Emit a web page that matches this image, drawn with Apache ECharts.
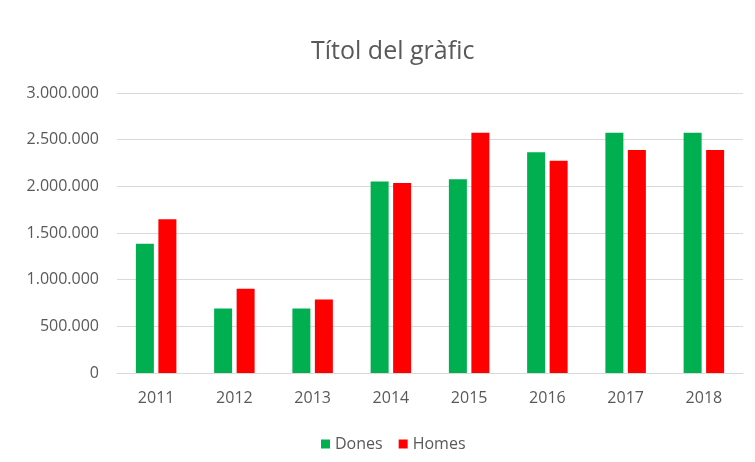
<!DOCTYPE html>
<html>
<head>
<meta charset="utf-8">
<script src="https://cdn.jsdelivr.net/npm/echarts@6/dist/echarts.min.js"></script>
<style>
  html, body { margin: 0; padding: 0; background: #fff; }
  #chart { width: 755px; height: 462px; }
</style>
</head>
<body>
<div id="chart"></div>
<script>
const years = ['2011', '2012', '2013', '2014', '2015', '2016', '2017', '2018']
const dones = [1385000, 691000, 691000, 2051000, 2076000, 2366000, 2574000, 2574000]
const homes = [1647000, 902000, 788000, 2037000, 2574000, 2273000, 2388000, 2388000]
const seriesNames = ['Dones', 'Homes']

const fontFamily = '"Open Sans", "Noto Sans", sans-serif'
const textColor = '#595959'

// 1234567 -> 1.234.567
const dotThousands = v => String(v).replace(/\B(?=(\d{3})+(?!\d))/g, '.')

const chart = echarts.init(document.getElementById('chart'))
chart.setOption({
  animation: false,
  title: {
    text: 'Títol del gràfic',
    left: 306,
    top: 34,
    textStyle: { fontFamily, fontSize: 25, fontWeight: 'normal', color: textColor }
  },
  legend: {
    top: 431,
    left: 316,
    itemWidth: 9,
    itemHeight: 9,
    itemGap: 16,
    icon: 'rect',
    textStyle: { fontFamily, fontSize: 16, color: textColor }
  },
  grid: { left: 117, right: 12, top: 93, bottom: 89 },
  xAxis: {
    type: 'category',
    data: years,
    axisTick: { show: false },
    axisLine: { lineStyle: { color: '#d9d9d9' } },
    axisLabel: { fontFamily, fontSize: 16, color: textColor, margin: 17 }
  },
  yAxis: {
    type: 'value',
    min: 0,
    max: 3000000,
    interval: 500000,
    axisLine: { show: false },
    axisTick: { show: false },
    splitLine: { lineStyle: { color: '#d9d9d9' } },
    axisLabel: { fontFamily, fontSize: 16, color: textColor, margin: 18, formatter: dotThousands }
  },
  series: [
    { name: seriesNames[0], type: 'bar', data: dones, barWidth: '23%', barGap: '25%',
      itemStyle: { color: '#00B050' } },
    { name: seriesNames[1], type: 'bar', data: homes, barWidth: '23%',
      itemStyle: { color: '#FF0000' } }
  ]
})
</script>
</body>
</html>
